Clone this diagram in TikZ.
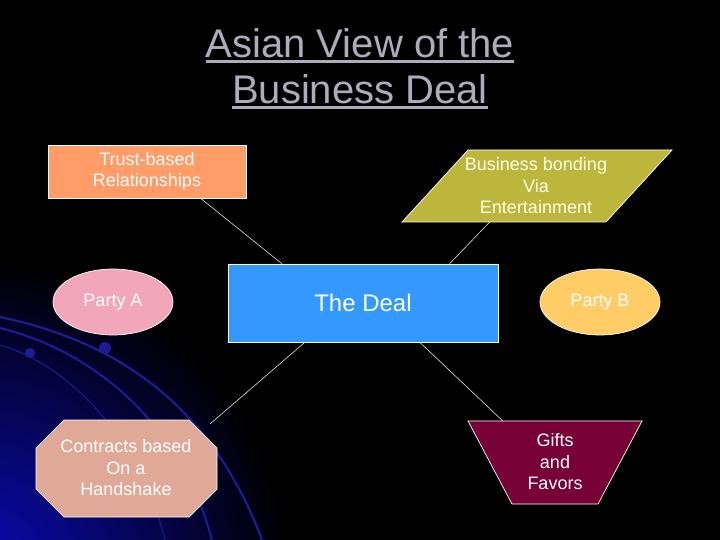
\documentclass[tikz,border=0pt]{standalone}
\usepackage{fontspec}
\setmainfont{Liberation Sans}
\usetikzlibrary{calc,shapes.geometric}
\definecolor{titlegray}{RGB}{172,172,188}
\definecolor{trustc}{RGB}{255,156,104}
\definecolor{bondc}{RGB}{189,182,60}
\definecolor{bondtext}{RGB}{255,255,232}
\definecolor{dealc}{RGB}{51,153,255}
\definecolor{partyac}{RGB}{242,166,186}
\definecolor{partybc}{RGB}{255,204,102}
\definecolor{contractc}{RGB}{224,168,150}
\definecolor{giftc}{RGB}{119,0,54}
\definecolor{swoosh}{RGB}{28,28,150}
\definecolor{glow}{RGB}{10,10,190}
\newcommand\myul[1]{\setbox0\hbox{#1}\rlap{\color{titlegray}\rule[-5pt]{\wd0}{2.6pt}}\box0}
\begin{document}
\begin{tikzpicture}[x=1pt,y=-1pt,
  shapebox/.style={draw=white, line width=0.7pt},
  lbl/.style={text=white, font=\fontsize{18}{21.5}\selectfont, align=center},
  link/.style={draw=white, line width=0.5pt},
  titletext/.style={text=titlegray, font=\fontsize{40}{48}\selectfont, anchor=base, inner sep=0pt}]
\useasboundingbox (0,0) rectangle (720,540);
% background
\fill[black] (0,0) rectangle (720,540);
\begin{scope}
  \clip (0,0) rectangle (720,540);
  \shade[inner color=glow, outer color=black] (-30,580) circle (320);
  \draw[swoosh, line width=2.2pt] (0,317) .. controls (110,340) and (210,400) .. (262,540);
  \draw[swoosh, line width=2pt] (0,328) .. controls (90,350) and (180,420) .. (212,540);
  \draw[swoosh!80!black, line width=1.5pt] (0,345) .. controls (70,365) and (140,440) .. (165,540);
  \fill[swoosh] (105,348) circle (6);
  \fill[swoosh] (30,353) circle (5);
\end{scope}
% title
\node[titletext] (title1) at (360,58) {\myul{Asian View of the}};
\node[titletext] (title2) at (360,104) {\myul{Business Deal}};
% shapes
\node[shapebox, fill=trustc, minimum width=198, minimum height=53, lbl] (trust) at (147,171.5) {Trust-based\\Relationships};
\draw[shapebox, fill=bondc] (468,150) coordinate (b1) -- (672,150) coordinate (b2) -- (606,222) coordinate (b3) -- (402,222) coordinate (b4) -- cycle;
\node[lbl, text=bondtext] (bond) at (536,186) {Business bonding\\Via\\Entertainment};
\node[shapebox, fill=dealc, minimum width=270, minimum height=78, text=white, font=\fontsize{24}{29}\selectfont] (deal) at (363,303) {The Deal};
\node[ellipse, shapebox, fill=partyac, minimum width=120, minimum height=66, inner sep=0pt, lbl] (pa) at (113,302) {Party A};
\node[ellipse, shapebox, fill=partybc, minimum width=120, minimum height=66, inner sep=0pt, lbl] (pb) at (600,302) {Party B};
\draw[shapebox, fill=contractc] (64,420) -- (189,420) coordinate (o2) -- (217,448) coordinate (o3) -- (217,489) -- (189,517) -- (64,517) -- (36,489) -- (36,448) -- cycle;
\node[lbl] (contract) at (126,468) {Contracts based\\On a\\Handshake};
\draw[shapebox, fill=giftc] (468,421) coordinate (g1) -- (642,421) coordinate (g2) -- (598,504) -- (512,504) -- cycle;
\node[lbl] (gift) at (555,462) {Gifts\\and\\Favors};
% connectors
\coordinate (cend) at (210,424);
\draw[link] ($(trust.south west)!0.77!(trust.south east)$) -- ($(deal.north west)!0.2!(deal.north east)$);
\draw[link] ($(b4)!0.43!(b3)$) -- ($(deal.north west)!0.82!(deal.north east)$);
\draw[link] ($(deal.south west)!0.285!(deal.south east)$) -- (cend);
\draw[link] ($(deal.south west)!0.71!(deal.south east)$) -- ($(g1)!0.2!(g2)$);
\end{tikzpicture}
\end{document}
